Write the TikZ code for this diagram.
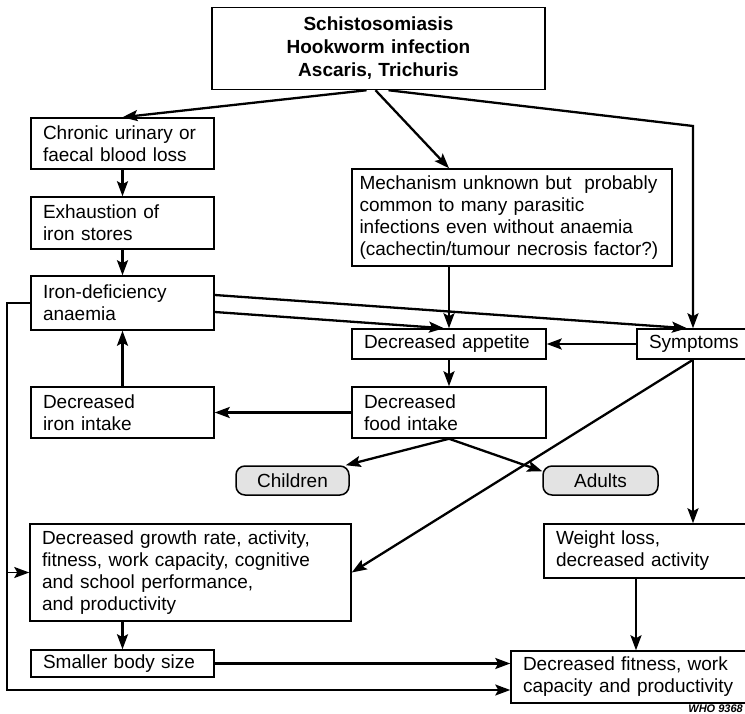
\documentclass[tikz,border=0pt]{standalone}
\usepackage{fontspec}
\setmainfont{Liberation Sans}
\usetikzlibrary{arrows.meta}
\begin{document}
\begin{tikzpicture}[x=1pt,y=-1pt,
    box/.style={draw,line width=1.5pt,inner xsep=12pt,inner ysep=2pt,align=left,font=\fontsize{19}{22}\selectfont},
    oval/.style={draw,line width=1.5pt,rounded corners=9pt,fill=gray!22,inner sep=0pt,font=\fontsize{19}{22}\selectfont},
    arr/.style={line width=2.3pt,-{Stealth[length=15pt,width=11pt,inset=3pt]}}]
    \useasboundingbox (0,0) rectangle (745,714);
    \node[box,align=center,text width=309pt,minimum height=82pt,font=\bfseries\fontsize{19}{23}\selectfont] (top) at (378.5,48.5) {Schistosomiasis\\Hookworm infection\\Ascaris, Trichuris};
    \node[box,text width=159pt,minimum height=51pt] (chronic) at (122.5,143.5) {Chronic urinary or\\faecal blood loss};
    \node[box,text width=159pt,minimum height=52pt] (exhaust) at (122.5,223) {Exhaustion of\\iron stores};
    \node[box,text width=159pt,minimum height=54pt] (irondef) at (122.5,303) {Iron-deficiency\\anaemia};
    \node[box,text width=159pt,minimum height=51pt] (ironint) at (122.5,412.5) {Decreased\\iron intake};
    \node[box,inner xsep=7.5pt,text width=305pt,minimum height=97pt] (mech) at (512,217.5) {Mechanism unknown but~ probably\\common to many parasitic\\infections even without anaemia\\(cachectin/tumour necrosis factor?)};
    \node[box,text width=170pt,minimum height=30pt] (appetite) at (449,344) {Decreased appetite};
    \node[box,text width=92pt,minimum height=30pt] (symptoms) at (695,344) {Symptoms};
    \node[box,text width=170pt,minimum height=51pt] (food) at (449,412.5) {Decreased\\food intake};
    \node[oval,minimum width=113pt,minimum height=29pt] (children) at (292.5,480.5) {Children};
    \node[oval,minimum width=115pt,minimum height=29pt] (adults) at (600.5,480.5) {Adults};
    \node[box,text width=297pt,minimum height=97pt] (growth) at (190.5,572.5) {Decreased growth rate, activity,\\fitness, work capacity, cognitive\\and school performance,\\and productivity};
    \node[box,text width=182pt,minimum height=54pt] (weight) at (647,551) {Weight loss,\\decreased activity};
    \node[box,text width=159pt,minimum height=27pt] (smaller) at (122.5,663.5) {Smaller body size};
    \node[box,text width=215pt,minimum height=52pt] (fitness) at (630.5,677) {Decreased fitness, work\\capacity and productivity};
    \node[anchor=east,inner sep=0pt,font=\bfseries\itshape\fontsize{11}{13}\selectfont] (who) at (743,708.5) {WHO 9368};
    \coordinate (turn) at (693,126);
    \coordinate (lp) at (7,0);

    \draw[arr] ([xshift=-12pt]top.south) -- (chronic.north);
    \draw[arr] ([xshift=-3pt]top.south) -- (appetite.north |- mech.north);
    \draw[arr] ([xshift=10pt]top.south) -- (turn) -- (turn |- symptoms.north);
    \draw[arr] (chronic) -- (exhaust);
    \draw[arr] (exhaust) -- (irondef);
    \draw[arr] (ironint) -- (irondef);
    \draw[arr] ([yshift=8pt]irondef.east) -- ([xshift=-8pt]symptoms.north);
    \draw[arr] ([yshift=-9pt]irondef.east) -- ([xshift=-5pt]appetite.north);
    \draw[arr] (appetite.north |- mech.south) -- (appetite.north);
    \draw[arr] (symptoms) -- (appetite);
    \draw[arr] (appetite) -- (food);
    \draw[arr] (food) -- (ironint);
    \draw[arr] (food.south) -- ([xshift=-4pt]children.north east);
    \draw[arr] (food.south) -- ([yshift=-6pt]adults.north west);
    \draw[arr] (turn |- symptoms.south) -- (growth.east);
    \draw[arr] (turn |- symptoms.south) -- (turn |- weight.north);
    \draw[arr] ([xshift=-11pt]weight.south) -- ([xshift=-11pt]weight.south |- fitness.north);
    \draw[arr] (smaller.north |- growth.south) -- (smaller.north);
    \draw[arr] (smaller.east) -- (smaller.east -| fitness.west);
    \draw[arr,line width=1.8pt] (irondef.west) -- (irondef.west -| lp) |- ([yshift=-13pt]fitness.west);
    \draw[arr,line width=1.8pt] (growth.west -| lp) -- (growth.west);
\end{tikzpicture}
\end{document}
